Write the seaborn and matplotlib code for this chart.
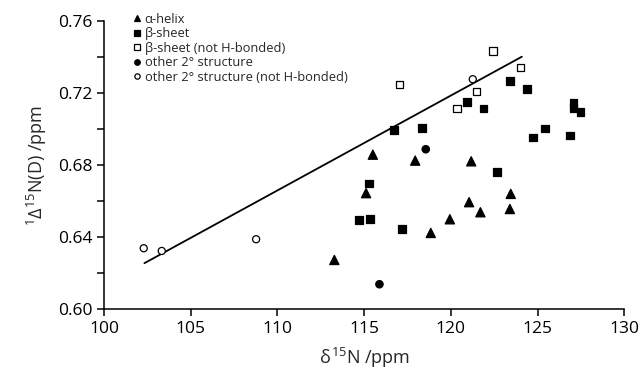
import numpy as np
import pandas as pd
import seaborn as sns
from matplotlib import pyplot as plt
from matplotlib.ticker import MultipleLocator, FormatStrFormatter

sns.set_style('ticks')
plt.rcParams['font.family'] = ['Open Sans', 'DejaVu Sans']
plt.rcParams['mathtext.fontset'] = 'custom'
plt.rcParams['mathtext.rm'] = 'Open Sans'
plt.rcParams['mathtext.it'] = 'Open Sans'

# alpha-helix
helix_x = [113.28, 115.11, 115.50, 117.94, 118.84, 119.94, 121.05, 121.17, 121.70, 123.40, 123.45]
helix_y = [0.6275, 0.6646, 0.6860, 0.6827, 0.6425, 0.6501, 0.6596, 0.6823, 0.6540, 0.6558, 0.6642]
# beta-sheet
sheet_x = [114.69, 115.28, 115.34, 116.71, 117.17, 118.34, 120.95, 121.88, 122.65, 123.43,
           124.41, 124.72, 125.42, 126.87, 127.07, 127.07, 127.47]
sheet_y = [0.6499, 0.6700, 0.6504, 0.6997, 0.6449, 0.7008, 0.7153, 0.7116, 0.6764, 0.7268,
           0.7223, 0.6955, 0.7005, 0.6966, 0.7146, 0.7121, 0.7099]
# beta-sheet, not H-bonded
sheet_nh_x = [117.03, 120.36, 121.47, 122.41, 124.01]
sheet_nh_y = [0.7249, 0.7116, 0.7210, 0.7436, 0.7343]
# other structure
other_x = [115.88, 118.55]
other_y = [0.6140, 0.6890]
# other structure, not H-bonded
other_nh_x = [102.29, 103.33, 108.77, 121.26]
other_nh_y = [0.6340, 0.6325, 0.6390, 0.7279]

# fitted line
line_x = [102.33, 124.09]
line_y = [0.6257, 0.7404]

labels = ['\u03b1-helix', '\u03b2-sheet', '\u03b2-sheet (not H-bonded)',
          'other 2\u00b0 structure', 'other 2\u00b0 structure (not H-bonded)']

rows = []
for lab, xs, ys in zip(labels, [helix_x, sheet_x, sheet_nh_x, other_x, other_nh_x],
                       [helix_y, sheet_y, sheet_nh_y, other_y, other_nh_y]):
    for a, b in zip(xs, ys):
        rows.append((a, b, lab))
df = pd.DataFrame(rows, columns=['shift', 'rda', 'structure'])

fig = plt.figure(figsize=(6.44, 3.76), dpi=100)
ax = fig.add_axes([0.1615, 0.177, 0.808, 0.766])

markers = dict(zip(labels, ['^', 's', 's', 'o', 'o']))
palette = dict(zip(labels, ['black', 'black', 'white', 'black', 'white']))
sizes = dict(zip(labels, [44, 32, 30, 28, 26]))

sns.scatterplot(data=df, x='shift', y='rda', hue='structure', style='structure', size='structure',
                hue_order=labels, style_order=labels, size_order=labels,
                markers=markers, palette=palette, sizes=sizes,
                edgecolor='black', linewidth=0.9, ax=ax, zorder=3)
sns.lineplot(x=line_x, y=line_y, color='black', linewidth=1.3, ax=ax, legend=False)

ax.set_xlim(100, 130)
ax.set_ylim(0.60, 0.76)
ax.xaxis.set_major_locator(MultipleLocator(5))
ax.yaxis.set_major_locator(MultipleLocator(0.04))
ax.yaxis.set_minor_locator(MultipleLocator(0.02))
ax.yaxis.set_major_formatter(FormatStrFormatter('%.2f'))
ax.tick_params(axis='both', which='both', direction='out', length=5, width=1.1, labelsize=12.5, colors='black')
for s in ['left', 'bottom']:
    ax.spines[s].set_linewidth(1.1)
    ax.spines[s].set_color('black')
sns.despine(ax=ax)

ax.set_xlabel(r'$\delta^{15}$N /ppm', fontsize=13, labelpad=6)
ax.set_ylabel('$^{1}$\u0394$^{15}$N(D) /ppm', fontsize=13, labelpad=6)

sns.move_legend(ax, 'upper left', bbox_to_anchor=(0.058, 1.03), frameon=False, title=None,
                fontsize=9.3, borderpad=0, handlelength=0.5, handletextpad=0.3, labelspacing=0.12,
                borderaxespad=0, markerscale=0.75)

fig.savefig('out.png', dpi=100)
